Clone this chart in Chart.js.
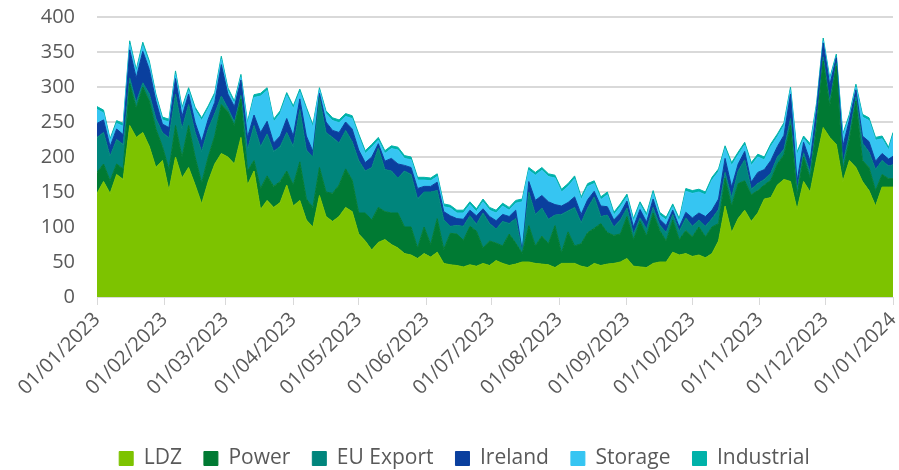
<!DOCTYPE html>
<html>
<head>
<meta charset="utf-8">
<script src="https://cdn.jsdelivr.net/npm/chart.js@4.4.0/dist/chart.umd.min.js"></script>
<style>
  html, body { margin: 0; padding: 0; background: #fff; }
  #wrap { width: 899px; height: 470px; }
</style>
</head>
<body>
<div id="wrap"><canvas id="demandChart"></canvas></div>
<script>
// day of year (0 = 01/01/2023) for each sample
const sampleDays = [0, 3, 6, 9, 12, 15, 18, 21, 24, 27, 30, 33, 36, 39, 42, 45, 48, 51, 54, 57,
    60, 63, 66, 69, 72, 75, 78, 81, 84, 87, 90, 93, 96, 99, 102, 105, 108, 111, 114, 117,
    120, 123, 126, 129, 132, 135, 138, 141, 144, 147, 150, 153, 156, 159, 162, 165, 168, 171, 174, 177,
    180, 183, 186, 189, 192, 195, 198, 201, 204, 207, 210, 213, 216, 219, 222, 225, 228, 231, 234, 237,
    240, 243, 246, 249, 252, 255, 258, 261, 264, 267, 270, 273, 276, 279, 282, 285, 288, 291, 294, 297,
    300, 303, 306, 309, 312, 315, 318, 321, 324, 327, 330, 333, 336, 339, 342, 345, 348, 351, 354, 357,
    360, 363, 365];

const ldz = [148, 165, 148, 175, 168, 245, 228, 235, 215, 185, 195, 152, 200, 170, 185, 160, 133, 165, 190, 205,
    200, 190, 228, 160, 180, 125, 138, 128, 135, 160, 130, 138, 110, 100, 145, 115, 108, 115, 128, 122,
    90, 80, 67, 78, 82, 75, 70, 62, 60, 55, 62, 57, 64, 48, 46, 45, 43, 46, 44, 48,
    45, 52, 48, 45, 47, 50, 50, 48, 47, 46, 42, 48, 48, 48, 44, 42, 48, 45, 47, 48,
    50, 55, 44, 43, 42, 48, 50, 50, 64, 60, 62, 58, 60, 56, 62, 80, 130, 92, 112, 124,
    108, 120, 140, 142, 160, 168, 165, 125, 165, 150, 198, 242, 228, 218, 165, 195, 185, 165, 152, 130,
    157, 157, 157];

const power = [30, 25, 18, 15, 15, 60, 42, 65, 65, 55, 20, 30, 45, 30, 60, 40, 30, 35, 40, 70,
    65, 55, 55, 20, 15, 30, 35, 30, 30, 20, 30, 55, 30, 28, 40, 35, 40, 45, 55, 45,
    30, 40, 43, 50, 40, 45, 50, 38, 40, 15, 38, 18, 48, 20, 45, 45, 38, 55, 50, 22,
    35, 25, 25, 45, 30, 12, 52, 25, 40, 30, 60, 15, 45, 25, 32, 50, 50, 60, 45, 40,
    40, 60, 38, 65, 45, 72, 45, 30, 46, 22, 33, 28, 40, 30, 38, 25, 40, 38, 50, 42,
    38, 32, 20, 25, 30, 35, 80, 20, 35, 20, 45, 95, 45, 112, 15, 30, 95, 30, 33, 22,
    18, 12, 12];

const euExport = [50, 45, 35, 35, 35, 8, 8, 6, 10, 15, 20, 45, 45, 40, 30, 35, 45, 40, 32, 12,
    5, 5, 5, 30, 50, 60, 60, 50, 50, 55, 55, 75, 70, 72, 100, 85, 80, 60, 55, 55,
    75, 60, 75, 85, 60, 60, 50, 80, 75, 70, 50, 75, 40, 42, 10, 12, 20, 15, 10, 50,
    25, 20, 35, 15, 35, 2, 48, 45, 40, 35, 15, 55, 30, 55, 30, 35, 45, 10, 25, 12,
    20, 12, 8, 5, 10, 8, 8, 12, 8, 12, 18, 15, 10, 15, 12, 20, 8, 12, 18, 30,
    8, 10, 8, 10, 10, 8, 10, 8, 6, 8, 6, 6, 6, 4, 10, 8, 6, 25, 22, 30,
    20, 18, 20];

const ireland = [20, 18, 14, 15, 14, 40, 35, 45, 35, 25, 12, 15, 22, 18, 15, 14, 14, 14, 16, 45,
    20, 22, 22, 18, 15, 20, 18, 12, 15, 20, 15, 15, 20, 8, 6, 15, 10, 15, 12, 18,
    15, 12, 15, 6, 12, 18, 20, 8, 10, 15, 8, 8, 12, 12, 15, 10, 10, 8, 12, 6,
    10, 12, 10, 10, 12, 2, 15, 20, 18, 25, 15, 12, 12, 15, 12, 12, 8, 15, 12, 10,
    10, 10, 10, 12, 10, 12, 8, 10, 6, 6, 8, 12, 10, 14, 12, 15, 20, 15, 10, 12,
    10, 16, 14, 18, 15, 20, 35, 12, 15, 16, 20, 20, 24, 8, 25, 20, 10, 10, 15, 12,
    10, 10, 12];

const storage = [20, 10, 8, 8, 12, 8, 8, 8, 8, 6, 6, 8, 6, 9, 5, 18, 30, 15, 10, 8,
    5, 4, 4, 18, 25, 52, 44, 30, 32, 33, 39, 10, 37, 34, 5, 12, 14, 14, 8, 15,
    19, 13, 14, 5, 11, 14, 20, 10, 11, 12, 9, 8, 8, 7, 11, 8, 9, 8, 6, 10,
    9, 11, 12, 9, 10, 70, 16, 36, 36, 36, 38, 20, 23, 26, 21, 19, 11, 9, 17, 7,
    9, 6, 8, 7, 8, 8, 6, 8, 5, 8, 30, 35, 30, 31, 43, 39, 14, 31, 13, 9,
    24, 22, 14, 20, 14, 14, 6, 38, 5, 21, 5, 3, 6, 1, 14, 4, 4, 27, 30, 30,
    21, 13, 30];

const industrial = [4, 4, 3, 4, 4, 5, 4, 5, 4, 4, 4, 4, 5, 4, 4, 4, 4, 4, 4, 4,
    4, 4, 4, 4, 4, 4, 4, 4, 4, 4, 4, 4, 4, 4, 3, 4, 4, 4, 4, 4,
    4, 4, 4, 4, 4, 4, 4, 4, 4, 4, 4, 4, 4, 4, 4, 4, 4, 4, 4, 4,
    4, 4, 4, 4, 4, 4, 4, 4, 4, 4, 4, 4, 4, 4, 4, 4, 4, 4, 4, 4,
    4, 4, 4, 4, 4, 4, 4, 4, 4, 4, 4, 4, 4, 4, 4, 4, 4, 4, 4, 4,
    4, 4, 4, 4, 4, 4, 4, 4, 4, 4, 4, 4, 4, 4, 4, 4, 4, 4, 4, 4,
    4, 4, 4];

// month starts on the x axis
const monthDays = [0, 31, 59, 90, 120, 151, 181, 212, 243, 273, 304, 334, 365];
const monthLabels = ['01/01/2023', '01/02/2023', '01/03/2023', '01/04/2023', '01/05/2023', '01/06/2023',
    '01/07/2023', '01/08/2023', '01/09/2023', '01/10/2023', '01/11/2023', '01/12/2023', '01/01/2024'];

const textColor = '#595959';
const fontFamily = '"Open Sans", sans-serif';

function areaSet(label, data, color, first) {
    return {
        label: label,
        data: data,
        backgroundColor: color,
        borderColor: color,
        borderWidth: 1,
        pointRadius: 0,
        tension: 0,
        fill: first ? 'origin' : '-1'
    };
}

const ctx = document.getElementById('demandChart').getContext('2d');
new Chart(ctx, {
    type: 'line',
    data: {
        labels: sampleDays,
        datasets: [
            areaSet('LDZ', ldz, '#7dc300', true),
            areaSet('Power', power, '#007a33'),
            areaSet('EU Export', euExport, '#00857c'),
            areaSet('Ireland', ireland, '#0a3f9e'),
            areaSet('Storage', storage, '#36c5f2'),
            areaSet('Industrial', industrial, '#00b2a9')
        ]
    },
    options: {
        responsive: true,
        maintainAspectRatio: false,
        animation: false,
        layout: { padding: { left: 36, right: 6, top: 3, bottom: -9 } },
        plugins: {
            legend: {
                position: 'bottom',
                labels: {
                    color: textColor,
                    font: { family: fontFamily, size: 21 },
                    boxWidth: 14,
                    boxHeight: 14,
                    padding: 22
                }
            },
            tooltip: { enabled: false }
        },
        scales: {
            x: {
                type: 'linear',
                min: 0,
                max: 365,
                afterBuildTicks: function(axis) {
                    axis.ticks = monthDays.map(function(d) { return { value: d }; });
                },
                afterFit: function(axis) {
                    // pin the plot area to the reference position
                    axis.paddingLeft = 97;
                    axis.paddingRight = 6;
                    axis.height = 129;
                },
                ticks: {
                    color: textColor,
                    font: { family: fontFamily, size: 20 },
                    minRotation: 45,
                    maxRotation: 45,
                    autoSkip: false,
                    callback: function(value) {
                        const i = monthDays.indexOf(value);
                        return i >= 0 ? monthLabels[i] : '';
                    }
                },
                grid: {
                    drawOnChartArea: false,
                    color: '#d9d9d9',
                    tickLength: 8
                },
                border: { color: '#d9d9d9', width: 1 }
            },
            y: {
                stacked: true,
                min: 0,
                max: 400,
                afterFit: function(axis) {
                    axis.width = 61;
                    axis.paddingTop = 17;
                    axis.paddingBottom = 0;
                },
                ticks: {
                    stepSize: 50,
                    color: textColor,
                    font: { family: fontFamily, size: 20 },
                    padding: 22
                },
                grid: { color: '#d9d9d9', lineWidth: 2, drawTicks: false },
                border: { display: false }
            }
        }
    }
});
</script>
</body>
</html>
